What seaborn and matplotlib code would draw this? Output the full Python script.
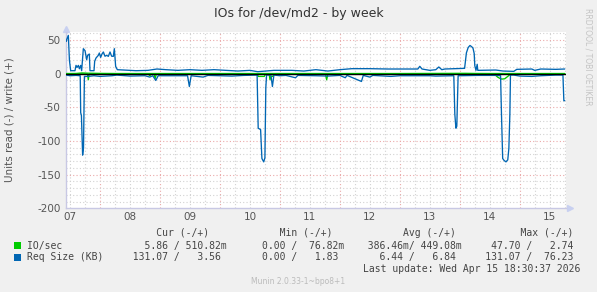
import numpy as np
import pandas as pd
import matplotlib
matplotlib.use("Agg")
import matplotlib.pyplot as plt
from matplotlib.patches import Rectangle
import seaborn as sns

sns.set_style("white")
plt.rcParams['font.family'] = ['DejaVu Sans']

# ---------------- data (time in day-of-month, Apr 2026) ----------------
# Req Size (KB) - write (+)
req_write_t = [7.438, 7.444, 7.472, 7.49, 7.511, 7.583, 7.6, 7.617, 7.639, 7.656, 7.678, 7.694,
               7.722, 7.75, 7.778, 7.794, 7.822, 7.833, 7.9, 7.911, 7.933, 7.972, 7.989, 8.011,
               8.033, 8.056, 8.083, 8.111, 8.139, 8.167, 8.194, 8.222, 8.239, 8.261, 8.289,
               8.6, 8.8, 8.95, 9.1, 9.3, 9.5, 9.7, 9.9, 10.1, 10.3, 10.5, 10.63, 10.9, 11.2,
               11.4, 11.6, 11.8, 12.0, 12.2, 12.5, 12.8, 13.0, 13.3, 13.333, 13.37, 13.5, 13.6,
               13.65, 13.7, 13.75, 14.08, 14.11, 14.14, 14.17, 14.2, 14.22, 14.24, 14.25, 14.27,
               14.29, 14.3, 14.6, 14.72, 14.9, 14.95, 15.2, 15.25, 15.35, 15.6, 15.75]
req_write_v = [48, 50.6, 57, 20, 4.5, 4.5, 12.4, 9.4, 12.4, 7.4, 12.4, 4.5,
               37.2, 34.3, 20.8, 27.3, 29.3, 4.5, 4.5, 18.4, 23.3, 27.3, 30.8, 24.3,
               29.3, 32.3, 26, 27.3, 25.8, 32.3, 26, 25.8, 37.2, 10.9, 6,
               4.5, 5, 7, 6, 5, 6, 5, 6, 5, 4, 5, 3, 5, 5,
               4, 6, 4, 6, 7.5, 7.5, 7, 7, 7, 11, 7, 5, 6,
               10, 6, 7, 8, 31, 39, 42, 40, 38, 30, 12, 5,
               14, 5, 5.5, 4, 3.5, 6.5, 7, 5, 7, 6.5, 7]

# Req Size (KB) - read (-), stored as positive magnitudes
req_read_t = [7.438, 7.5, 7.6, 7.67, 7.678, 7.69, 7.71, 7.725, 7.74, 7.8, 7.9, 8.0, 8.2,
              8.28, 8.5, 8.75, 8.83, 8.88, 8.93, 8.97, 9.2, 9.46, 9.49, 9.52, 9.72, 9.8,
              10.0, 10.2, 10.4, 10.62, 10.638, 10.678, 10.7, 10.73, 10.75, 10.765, 10.778,
              10.85, 10.875, 10.9, 11.0, 11.1, 11.26, 11.3, 11.6, 11.8, 12.0, 12.09, 12.12,
              12.36, 12.39, 12.5, 12.55, 12.85, 13.0, 13.3, 13.5, 13.6, 13.9, 13.917,
              13.935, 13.95, 13.972, 14.0, 14.3, 14.6, 14.68, 14.695, 14.715, 14.74, 14.77,
              14.8, 14.818, 14.835, 14.845, 14.9, 15.0, 15.2, 15.35, 15.6, 15.72, 15.735,
              15.75]
req_read_v = [2, 3, 2.5, 3, 58, 62, 121, 110, 4, 4, 3, 4, 3,
              2, 3.5, 3, 5, 3, 10, 3, 3, 3, 19, 3, 5, 2.5,
              3, 3.5, 2.5, 2, 81, 83, 126, 131, 125, 21, 2,
              2, 19, 2, 3, 2.5, 6, 2.5, 3, 3.5, 2.5, 6, 2.5,
              11.5, 2.5, 5, 2.5, 4, 3, 3, 3, 3.5, 3, 60,
              81, 78, 3, 3, 2.5, 2.5, 3, 60, 126, 129, 131,
              128, 111, 60, 2, 2, 3.5, 4, 3, 2, 2, 40,
              40]

# IO/sec - write (+)
io_write_t = [7.438, 7.6, 7.7, 7.8, 8.0, 8.3, 9.0, 10.0, 11.0, 12.0, 13.0, 14.1, 14.25,
              14.5, 15.0, 15.75]
io_write_v = [0.3, 0.4, 1.2, 0.8, 0.5, 0.3, 0.3, 0.3, 0.3, 0.3, 0.3, 0.6, 0.4,
              0.3, 0.3, 0.3]

# IO/sec - read (-), stored as positive magnitudes
io_read_t = [7.438, 7.79, 7.805, 7.82, 8.8, 8.83, 8.86, 8.9, 8.92, 8.94, 10.62, 10.64,
             10.74, 10.76, 10.82, 10.835, 10.85, 10.88, 10.9, 11.76, 11.78, 11.8, 13.85,
             13.87, 13.89, 14.52, 14.55, 14.6, 14.63, 14.67, 14.7, 14.75, 14.8, 14.84,
             14.87, 15.75]
io_read_v = [0.2, 0.2, 9, 0.2, 0.2, 3, 0.2, 0.2, 7, 0.2, 0.5, 4,
             4, 0.5, 0.5, 9, 4, 4, 0.2, 0.5, 9, 0.5, 0.2,
             1.5, 0.2, 0.2, 2, 2.5, 5, 7, 8, 7.5, 4, 1,
             0.2, 0.2]

day_labels = ["07", "08", "09", "10", "11", "12", "13", "14", "15"]
y_ticks = [50, 0, -50, -100, -150, -200]

GREEN = "#00CC00"
BLUE = "#0066B3"

legend_header = " " * 22 + "Cur (-/+)" + " " * 12 + "Min (-/+)" + " " * 12 + "Avg (-/+)" + " " * 11 + "Max (-/+)"
legend_rows = [
    ("IO/sec", GREEN,
     "IO/sec" + " " * 12 + "  5.86 / 510.82m" + " " * 4 + "  0.00 /  76.82m" + " " * 4
     + "386.46m/ 449.08m" + " " * 4 + " 47.70 /   2.74"),
    ("Req Size (KB)", BLUE,
     "Req Size (KB)" + " " * 5 + "131.07 /   3.56 " + " " * 4 + "  0.00 /   1.83 " + " " * 4
     + "  6.44 /   6.84 " + " " * 4 + "131.07 /  76.23"),
]
last_update = "Last update: Wed Apr 15 18:30:37 2026"

# ---------------- figure ----------------
W, H = 597, 292
fig = plt.figure(figsize=(W / 100, H / 100), dpi=100, facecolor="#F0F0F0")
L, R, T, B = 66.3, 566.0, 32.0, 208.3
ax = fig.add_axes([L / W, 1 - B / H, (R - L) / W, (B - T) / H])
ax.set_facecolor("white")
x0, x1 = 7.438, 15.771
ax.set_xlim(x0, x1)
ax.set_ylim(-200, 62)

# grid
for xv in np.arange(7.5, 15.8, 0.25):
    if abs(xv - round(xv)) < 1e-6:
        ax.axvline(xv, color="#EBA9A9", lw=0.8, ls=(0, (1, 2)), zorder=0)
    else:
        ax.axvline(xv, color="#D2D2D2", lw=0.8, ls=(0, (1, 2)), zorder=0)
for yv in range(-190, 61, 10):
    if yv % 50 == 0:
        ax.axhline(yv, color="#EBA9A9", lw=0.8, ls=(0, (1, 2)), zorder=0)
    else:
        ax.axhline(yv, color="#D2D2D2", lw=0.8, ls=(0, (1, 2)), zorder=0)

# series
df_iow = pd.DataFrame({"t": io_write_t, "v": io_write_v})
df_ior = pd.DataFrame({"t": io_read_t, "v": [-v for v in io_read_v]})
df_rqw = pd.DataFrame({"t": req_write_t, "v": req_write_v})
df_rqr = pd.DataFrame({"t": req_read_t, "v": [-v for v in req_read_v]})
for d, c in [(df_ior, GREEN), (df_iow, GREEN), (df_rqr, BLUE), (df_rqw, BLUE)]:
    sns.lineplot(data=d, x="t", y="v", ax=ax, color=c, lw=0.95, estimator=None, sort=False,
                 zorder=3)
ax.axhline(0, color="black", lw=1.0, zorder=5)

# axes styling
for s in ["top", "right"]:
    ax.spines[s].set_visible(False)
for s in ["left", "bottom"]:
    ax.spines[s].set_color("#C8C8E4")
    ax.spines[s].set_linewidth(1.0)
ax.plot([x1 + 0.06], [-200], marker=">", color="#C8D0F0", ms=4, clip_on=False)
ax.plot([x0], [62 + 5], marker="^", color="#C8D0F0", ms=4, clip_on=False)

ax.set_xticks([7.5 + i for i in range(len(day_labels))])
ax.set_xticklabels(day_labels)
ax.set_xticks(np.arange(7.5, 15.8, 0.25), minor=True)
ax.set_yticks(y_ticks)
ax.set_yticklabels([str(v) for v in y_ticks])
ax.set_yticks(range(-190, 61, 10), minor=True)
ax.tick_params(axis="x", which="major", length=0, pad=3, labelsize=7.5, labelcolor="#555555")
ax.tick_params(axis="x", which="minor", length=2, color="#D0A0A0", direction="in")
ax.tick_params(axis="y", which="major", length=2, pad=2, labelsize=7.5, labelcolor="#555555",
               color="#E0A0A0")
ax.tick_params(axis="y", which="minor", length=2, color="#CCCCCC")
ax.set_xlabel("")
ax.set_ylabel("")

# texts
fig.text(298.5 / W, 1 - 13 / H, "IOs for /dev/md2 - by week", ha="center", va="center",
         fontsize=9, color="#333333")
fig.text(10 / W, 1 - 120 / H, "Units read (-) / write (+)", rotation=90, ha="center",
         va="center", fontsize=7.5, color="#555555")
fig.text(588 / W, 1 - 57 / H, "RRDTOOL / TOBI OETIKER", rotation=270, ha="center",
         va="center", fontsize=5.5, color="#C4C4C4")

mono = "DejaVu Sans Mono"
fig.text(27 / W, 1 - 233 / H, legend_header, ha="left", va="center", fontsize=7,
         family=mono, color="#444444")
for i, (name, col, row) in enumerate(legend_rows):
    yc = 245.5 + 12 * i
    fig.patches.append(Rectangle((14 / W, 1 - (yc + 3.2) / H), 6.5 / W, 6.5 / H,
                                 transform=fig.transFigure, facecolor=col, edgecolor="none"))
    fig.text(27 / W, 1 - yc / H, row, ha="left", va="center", fontsize=7, family=mono,
             color="#444444")
fig.text((27 + 57 * 5.9) / W, 1 - 269 / H, last_update, ha="left", va="center", fontsize=7,
         family=mono, color="#444444")
fig.text(298.5 / W, 1 - 282 / H, "Munin 2.0.33-1~bpo8+1", ha="center", va="center",
         fontsize=5.5, color="#BBBBBB")

fig.savefig("out.png", dpi=100, facecolor=fig.get_facecolor())
